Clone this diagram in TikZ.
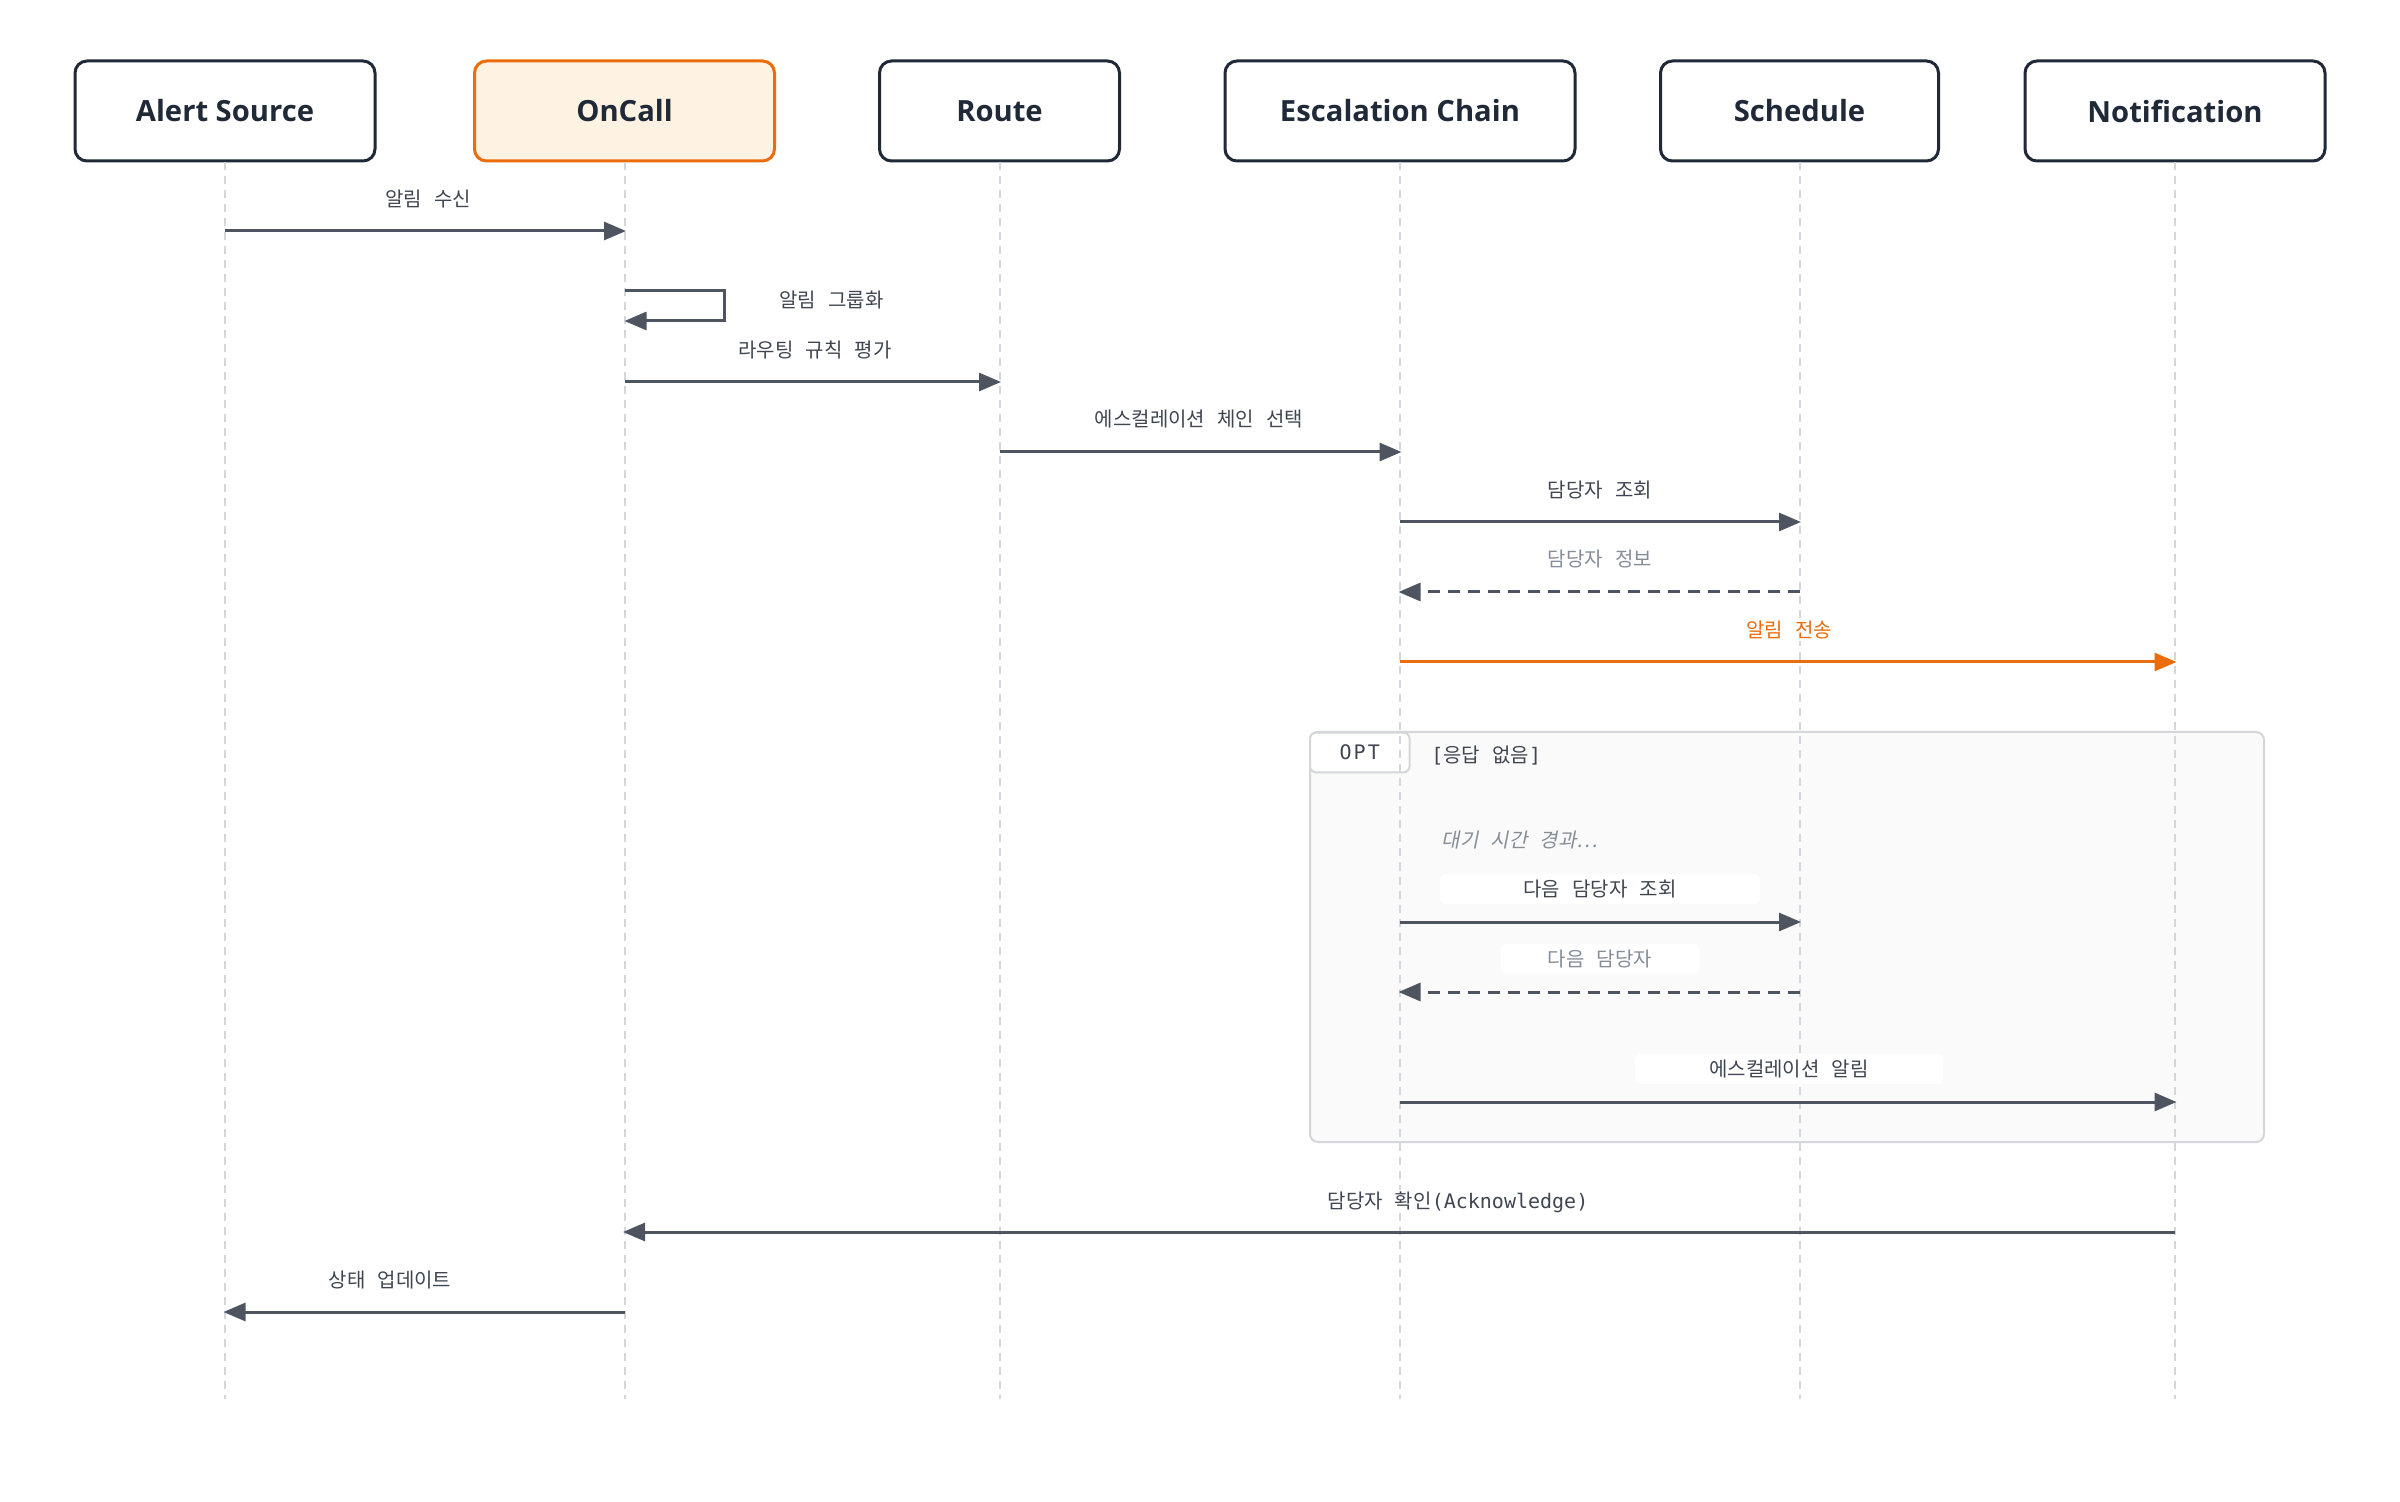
\documentclass[tikz,border=0pt]{standalone}
\usepackage{fontspec}
\usetikzlibrary{arrows.meta}
\setmainfont{Open Sans}
\newfontfamily\kr{Noto Sans CJK KR}[WordSpace=2.7]
\newfontfamily\kri{Noto Sans CJK KR}[WordSpace=2.7,FakeSlant=0.2]
\newfontfamily\mono{DejaVu Sans Mono}
\newfontfamily\monols{DejaVu Sans Mono}[LetterSpace=10]
\definecolor{ink}{HTML}{1F2937}
\definecolor{arrowc}{HTML}{4E5560}
\definecolor{txt}{HTML}{3F4651}
\definecolor{muted}{HTML}{858D99}
\definecolor{accent}{HTML}{EA6C0B}
\definecolor{life}{HTML}{D3D6DB}
\definecolor{oncallfill}{HTML}{FEF3E2}
\definecolor{optfill}{HTML}{FAFAFA}
\definecolor{optline}{HTML}{D4D6DA}
\tikzset{
  head/.style={draw=ink, line width=1.5pt, rounded corners=6pt, fill=white,
    font=\bfseries\fontsize{14.6}{18}\selectfont, text=ink, minimum height=50pt, inner sep=0pt},
  msg/.style={draw=arrowc, line width=1.5pt, -{Triangle[length=11pt,width=9pt]}},
  ret/.style={msg, dash pattern=on 6pt off 4pt},
  hot/.style={msg, draw=accent, -{Triangle[length=11pt,width=9pt,fill=accent]}},
  lbl/.style={font=\kr\fontsize{10}{12}\selectfont, text=txt, inner sep=1pt, fill=white,
    text height=8.5pt, text depth=1pt},
  optlbl/.style={lbl, rounded corners=3pt, minimum height=15pt},
  lifeline/.style={draw=life, line width=1pt, dash pattern=on 4pt off 3pt}
}
\begin{document}
\begin{tikzpicture}[x=0.5pt,y=-0.5pt]
\useasboundingbox[fill=white] (0,0) rectangle (2400,1502);

% OPT frame
\draw[draw=optline, line width=1pt, fill=optfill, rounded corners=4pt] (1310,732) rectangle (2264,1142);
\node[draw=optline, line width=1pt, fill=white, rounded corners=3pt, minimum width=49.75pt, minimum height=19.85pt, inner sep=0pt,
  font=\monols\fontsize{10}{11}\selectfont, text=txt, text height=7.5pt, text depth=0pt] (opttag) at (1359.75,752.5) {OPT};
\node[anchor=west, inner sep=0pt, font=\kr\fontsize{10}{12}\selectfont, text=txt, text height=8.5pt, text depth=1pt] (optcond) at (1431,755) {{\mono[}응답 없음{\mono]}};

% heads
\node[head, minimum width=150pt] (alert) at (225,111) {Alert Source};
\node[head, minimum width=150pt, draw=accent, fill=oncallfill] (oncall) at (624.5,111) {OnCall};
\node[head, minimum width=120pt] (route) at (999.5,111) {Route};
\node[head, minimum width=175pt] (esc) at (1400,111) {Escalation Chain};
\node[head, minimum width=139pt] (sched) at (1799.5,111) {Schedule};
\node[head, minimum width=150pt] (notif) at (2175,111) {Notification};

% lifeline ends
\coordinate (alertE) at (225,1399);
\coordinate (oncallE) at (624.5,1399);
\coordinate (routeE) at (999.5,1399);
\coordinate (escE) at (1400,1399);
\coordinate (schedE) at (1799.5,1399);
\coordinate (notifE) at (2175,1399);
\draw[lifeline] (alert.south) -- (alertE);
\draw[lifeline] (oncall.south) -- (oncallE);
\draw[lifeline] (route.south) -- (routeE);
\draw[lifeline] (esc.south) -- (escE);
\draw[lifeline] (sched.south) -- (schedE);
\draw[lifeline] (notif.south) -- (notifE);

% message coordinates
\coordinate (m1a) at (225,231);   \coordinate (m1b) at (626,231);
\coordinate (s1a) at (624.5,291); \coordinate (s1c) at (724,306); \coordinate (s1b) at (624.5,321);
\coordinate (m3a) at (624.5,382); \coordinate (m3b) at (1001,382);
\coordinate (m4a) at (999.5,452); \coordinate (m4b) at (1401.5,452);
\coordinate (m5a) at (1400,522);  \coordinate (m5b) at (1801,522);
\coordinate (m6a) at (1799.5,592);\coordinate (m6b) at (1398.5,592);
\coordinate (m7a) at (1400,662);  \coordinate (m7b) at (2176.5,662);
\coordinate (o1a) at (1400,922);  \coordinate (o1b) at (1801,922);
\coordinate (o2a) at (1799.5,992);\coordinate (o2b) at (1398.5,992);
\coordinate (o3a) at (1400,1102); \coordinate (o3b) at (2176.5,1102);
\coordinate (m8a) at (2175,1232); \coordinate (m8b) at (623,1232);
\coordinate (m9a) at (624.5,1312);\coordinate (m9b) at (223.5,1312);

% messages
\draw[msg] (m1a) -- (m1b);
\node[lbl] (l1) at (428,199) {알림 수신};
\draw[msg] (s1a) -| (s1c) |- (s1b);
\node[lbl, anchor=west] (ls1) at (777,300) {알림 그룹화};
\draw[msg] (m3a) -- (m3b);
\node[lbl] (l3) at (815,350) {라우팅 규칙 평가};
\draw[msg] (m4a) -- (m4b);
\node[lbl] (l4) at (1199,419) {에스컬레이션 체인 선택};
\draw[msg] (m5a) -- (m5b);
\node[lbl] (l5) at (1600,490) {담당자 조회};
\draw[ret] (m6a) -- (m6b);
\node[lbl, text=muted] (l6) at (1600,559) {담당자 정보};
\draw[hot] (m7a) -- (m7b);
\node[lbl, text=accent] (l7) at (1789,630) {알림 전송};

% inside OPT
\node[lbl, anchor=west, fill=none, text=muted, font=\kri\fontsize{10}{12}\selectfont] (wait) at (1439.5,840) {대기 시간 경과…};
\draw[msg] (o1a) -- (o1b);
\node[optlbl, minimum width=160pt] (lo1) at (1600,889) {다음 담당자 조회};
\draw[ret] (o2a) -- (o2b);
\node[optlbl, minimum width=99.5pt, text=muted] (lo2) at (1600,959) {다음 담당자};
\draw[msg] (o3a) -- (o3b);
\node[optlbl, minimum width=154pt] (lo3) at (1789,1069) {에스컬레이션 알림};

% after
\draw[msg] (m8a) -- (m8b);
\node[lbl] (l8) at (1458,1201) {담당자 확인{\mono (Acknowledge)}};
\draw[msg] (m9a) -- (m9b);
\node[lbl] (l9) at (390,1280) {상태 업데이트};
\end{tikzpicture}
\end{document}
